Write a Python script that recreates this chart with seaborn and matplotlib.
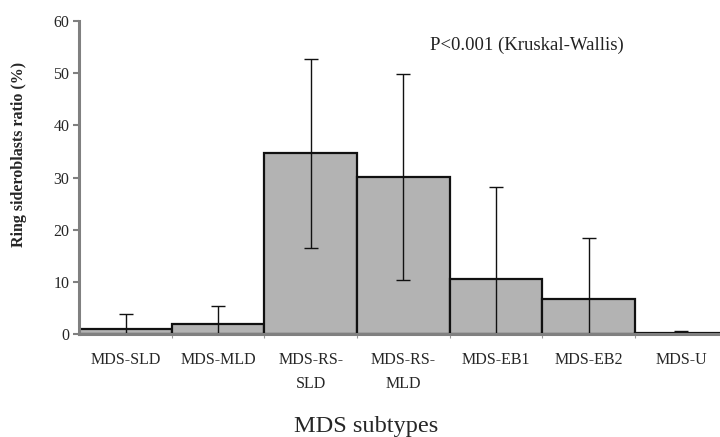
import numpy as np
import pandas as pd
import matplotlib
matplotlib.use("Agg")
import matplotlib.pyplot as plt
import seaborn as sns

# values
subtypes = ["MDS-SLD", "MDS-MLD", "MDS-RS-\nSLD", "MDS-RS-\nMLD", "MDS-EB1", "MDS-EB2", "MDS-U"]
mean_rs = [1.0, 2.0, 34.6, 30.1, 10.6, 6.8, 0.3]
sd_rs = [2.8, 3.5, 18.1, 19.8, 17.6, 11.7, 0.27]

df = pd.DataFrame({"subtype": subtypes, "ratio": mean_rs})

sns.set_style("white")
plt.rcParams["font.family"] = ["Liberation Serif", "DejaVu Serif"]

fig = plt.figure(figsize=(7.2, 4.37), dpi=100)
ax = fig.add_axes([0.11, 0.235, 0.89, 0.7176])

sns.barplot(data=df, x="subtype", y="ratio", color="#b3b3b3", saturation=1,
            width=1.0, edgecolor="#111111", linewidth=1.6, ax=ax)

# error bars: lower part clipped at zero like the original
lower = [min(m, s) for m, s in zip(mean_rs, sd_rs)]
ax.errorbar(np.arange(len(subtypes)), mean_rs, yerr=[lower, sd_rs], fmt="none",
            ecolor="#111111", elinewidth=1.0, capsize=5, capthick=1.0, zorder=5)

ax.set_ylim(0, 60)
ax.set_xlim(-0.5, 6.42)
ax.set_yticks(range(0, 61, 10))
ax.tick_params(axis="y", direction="out", length=4, width=1.5, color="#808080",
               labelsize=11.5, pad=3, left=True)
ax.tick_params(axis="x", length=0, labelsize=11.5, pad=13)
for lab in ax.get_xticklabels():
    lab.set_linespacing(1.6)
ax.set_xticks(np.arange(0.5, 6, 1), minor=True)
ax.tick_params(axis="x", which="minor", length=3, width=0.8, color="#999999", bottom=True)

for side in ["top", "right"]:
    ax.spines[side].set_visible(False)
for side in ["left", "bottom"]:
    ax.spines[side].set_color("#808080")
    ax.spines[side].set_linewidth(2.2)
    ax.spines[side].set_zorder(6)

ax.set_ylabel("Ring sideroblasts ratio (%)", fontsize=11.5, fontweight="bold")
ax.yaxis.set_label_coords(-0.081, 0.575)
ax.set_xlabel("MDS subtypes", fontsize=17.5)
ax.xaxis.set_label_coords(0.448, -0.262)

ax.text(4.33, 55.3, "P<0.001 (Kruskal-Wallis)", fontsize=13.5, ha="center", va="center",
        color="#222222")

fig.savefig("out.png", dpi=100)
